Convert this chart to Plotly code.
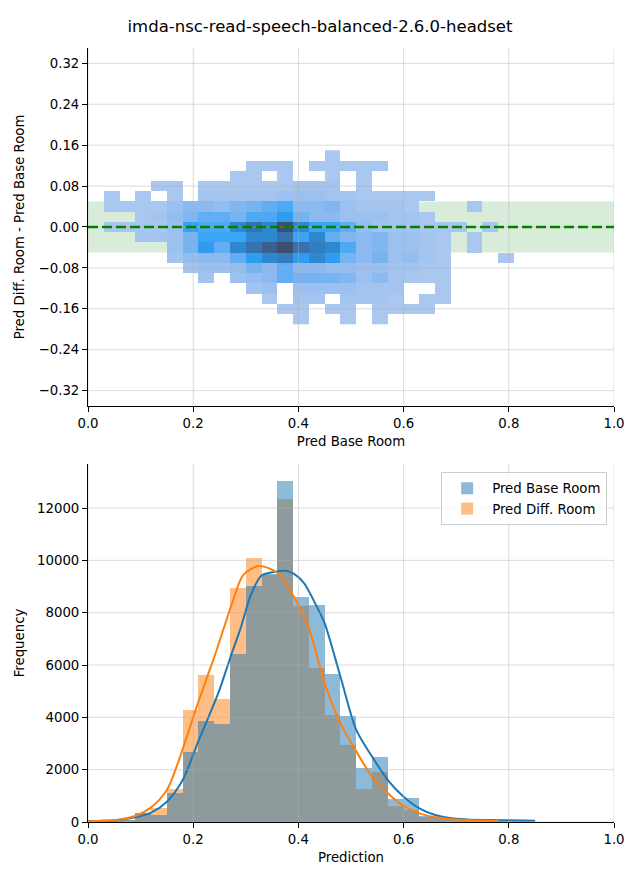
import plotly.graph_objects as go

TITLE = "imda-nsc-read-speech-balanced-2.6.0-headset"

# ---------------- top panel: 2D histogram ----------------
hm_x_centers = [0.015, 0.045, 0.075, 0.105, 0.135, 0.165, 0.195, 0.225, 0.255,
                0.285, 0.315, 0.345, 0.375, 0.405, 0.435, 0.465, 0.495, 0.525,
                0.555, 0.585, 0.615, 0.645, 0.675, 0.705, 0.735, 0.765, 0.795]
hm_y_centers = [0.14, 0.12, 0.10, 0.08, 0.06, 0.04, 0.02, 0.0, -0.02, -0.04,
                -0.06, -0.08, -0.10, -0.12, -0.14, -0.16, -0.18]
# density level per cell (0 = empty), rows follow hm_y_centers
hm_levels = [
    [0,0,0,0,0,0,0,0,0,0,0,0,0,0,0,1,0,0,0,0,0,0,0,0,0,0,0],
    [0,0,0,0,0,0,0,0,0,0,1,1,1,0,1,1,1,1,1,0,0,0,0,0,0,0,0],
    [0,0,0,0,0,0,0,0,0,1,1,0,1,0,0,1,0,1,0,0,0,0,0,0,0,0,0],
    [0,0,0,0,1,1,0,1,1,1,1,1,1,1.5,1.5,1.5,0,1,0,0,0,0,0,0,0,0,0],
    [0,1,0,1,0,1,0,1.5,1.5,1.5,1.5,1.5,2,2,2,1.5,1.5,1,1,1,1,1,0,0,0,0,0],
    [0,1,1,1,1,2,3,3,2.5,3.5,4,5,6,3,3,3.5,2,1.5,1.5,1.5,1,0,0,0,1,0,0],
    [0,0,0,1,1.5,2.5,3.5,5,5,4,6,6,8,4,3,3,2,2,2,1.5,1.5,1,0,0,0,0,0],
    [0,1,1,1,1,2,7.5,6,6,9,10,9,12,9,7,7,5,2.5,1.5,1.5,1.5,1,1,1,0,1,0],
    [0,0,0,1.5,1.5,2,4,7,7,7,9,9,10,7,9,5,3.5,3,3.5,2,2,1.5,1,0,1,0,0],
    [0,0,0,0,0,2,4,8,5,9,10,11,12,10,9.5,9,6,3,3.5,2,2,1.5,1,0,1,0,0],
    [0,0,0,0,0,1.5,2.5,3,3,5,8,9,9.5,8,9,8,4,3,4,2,2.5,1.5,1,0,0,0,1],
    [0,0,0,0,0,0,1.5,2,2,2.5,4,3,5,3,3,2.5,2.5,2,2,1.5,1.5,1,1,0,0,0,0],
    [0,0,0,0,0,0,0,1.5,0,2,2.5,3,5,4,4,4,3.5,2,3,1.5,1,1,1,0,0,0,0],
    [0,0,0,0,0,0,0,0,0,0,1.5,2,0,2,2,2,2,1.5,1.5,1.5,0,0,1,0,0,0,0],
    [0,0,0,0,0,0,0,0,0,0,0,1,0,1.5,1.5,0,1.5,1.5,1.5,1,0,1,1,0,0,0,0],
    [0,0,0,0,0,0,0,0,0,0,0,0,1,1,0,1,1,0,1,1,1,1,0,0,0,0,0],
    [0,0,0,0,0,0,0,0,0,0,0,0,0,1,0,0,1,0,1,0,0,0,0,0,0,0,0],
]
top_yticks = [-0.32, -0.24, -0.16, -0.08, 0.0, 0.08, 0.16, 0.24, 0.32]
top_xticks = [0.0, 0.2, 0.4, 0.6, 0.8, 1.0]
band_half = 0.05

# ---------------- bottom panel: histograms + KDE ----------------
hist_centers = [0.015, 0.045, 0.075, 0.105, 0.135, 0.165, 0.195, 0.225, 0.255,
                0.285, 0.315, 0.345, 0.375, 0.405, 0.435, 0.465, 0.495, 0.525,
                0.555, 0.585, 0.615, 0.645, 0.675, 0.705, 0.735, 0.765, 0.795, 0.825]
hist_width = 0.03
base_counts = [10, 30, 70, 340, 255, 1110, 2690, 3860, 3750, 6430, 9030, 9460, 13030,
               8600, 8290, 5655, 4050, 2060, 2484, 880, 917, 230, 200, 80, 30, 20, 10, 5]
diff_counts = [10, 30, 60, 340, 548, 1273, 4280, 5617, 4700, 8955, 10088, 9440, 12343,
               8267, 5897, 4089, 2942, 1261, 1911, 624, 459, 200, 150, 60, 20, 10, 0, 0]

kde_x_base = [0.0, 0.03, 0.06, 0.09, 0.12, 0.15, 0.18, 0.21, 0.23, 0.25, 0.27, 0.29,
              0.31, 0.33, 0.355, 0.375, 0.39, 0.41, 0.435, 0.45, 0.48, 0.51, 0.54,
              0.57, 0.60, 0.63, 0.66, 0.69, 0.72, 0.78, 0.85]
kde_y_base = [30, 45, 90, 178, 357, 777, 1605, 3100, 4050, 5050, 6250, 7400,
              8700, 9420, 9560, 9600, 9500, 9150, 8230, 7590, 5550, 3520, 2500,
              1605, 968, 522, 267, 140, 100, 70, 45]
kde_x_diff = [0.0, 0.03, 0.06, 0.09, 0.12, 0.15, 0.17, 0.19, 0.21, 0.24, 0.257, 0.276,
              0.295, 0.323, 0.345, 0.365, 0.384, 0.40, 0.42, 0.45, 0.48, 0.51, 0.54,
              0.57, 0.60, 0.63, 0.66, 0.69, 0.73, 0.78]
kde_y_diff = [30, 45, 100, 229, 560, 1223, 2200, 3389, 4600, 6300, 7336, 8483,
              9438, 9782, 9694, 9440, 8865, 8300, 7400, 5300, 3770, 2700, 1732,
              1096, 611, 331, 178, 102, 70, 40]
bot_yticks = [0, 2000, 4000, 6000, 8000, 10000, 12000]
bot_xticks = [0.0, 0.2, 0.4, 0.6, 0.8, 1.0]

BLUE = "#1f77b4"
ORANGE = "#ff7f0e"
FONT = "DejaVu Sans"
GRID = "rgba(176,176,176,0.45)"

level_colors = ["#aac7ef", "#9cc0ef", "#8bb9f0", "#76b3f1", "#62adf3", "#4ea9f5",
                "#3aa5f5", "#2f9cef", "#2e88d0", "#3672ae", "#3c5e8c", "#3e4f6e"]
colorscale = [[k / (len(level_colors) - 1), c] for k, c in enumerate(level_colors)]

z = [[(v if v > 0 else None) for v in row] for row in hm_levels]

fig = go.Figure()

fig.add_trace(go.Heatmap(
    x=hm_x_centers, y=hm_y_centers[::-1], z=z[::-1],
    colorscale=colorscale, zmin=1, zmax=12, showscale=False,
    hoverinfo="skip", xaxis="x", yaxis="y"))

# bottom histograms (orange first, blue on top)
fig.add_trace(go.Bar(x=hist_centers, y=diff_counts, width=hist_width,
                     marker=dict(color=ORANGE, line=dict(width=0)), opacity=0.5,
                     name="Pred Diff. Room", legendrank=2, xaxis="x2", yaxis="y2"))
fig.add_trace(go.Bar(x=hist_centers, y=base_counts, width=hist_width,
                     marker=dict(color=BLUE, line=dict(width=0)), opacity=0.5,
                     name="Pred Base Room", legendrank=1, xaxis="x2", yaxis="y2"))
fig.add_trace(go.Scatter(x=kde_x_base, y=kde_y_base, mode="lines",
                         line=dict(color=BLUE, width=2, shape="spline", smoothing=0.8),
                         showlegend=False, hoverinfo="skip", xaxis="x2", yaxis="y2"))
fig.add_trace(go.Scatter(x=kde_x_diff, y=kde_y_diff, mode="lines",
                         line=dict(color=ORANGE, width=2, shape="spline", smoothing=0.8),
                         showlegend=False, hoverinfo="skip", xaxis="x2", yaxis="y2"))

shapes = []
# green tolerance band (below cells)
shapes.append(dict(type="rect", xref="x domain", yref="y", x0=0, x1=1,
                   y0=-band_half, y1=band_half, fillcolor="rgba(0,128,0,0.15)",
                   line=dict(width=0), layer="below"))
# gridlines above patches
for t in top_xticks:
    shapes.append(dict(type="line", xref="x", yref="y domain", x0=t, x1=t, y0=0, y1=1,
                       line=dict(color=GRID, width=1), layer="above"))
for t in top_yticks:
    shapes.append(dict(type="line", xref="x domain", yref="y", x0=0, x1=1, y0=t, y1=t,
                       line=dict(color=GRID, width=1), layer="above"))
for t in bot_xticks:
    shapes.append(dict(type="line", xref="x2", yref="y2 domain", x0=t, x1=t, y0=0, y1=1,
                       line=dict(color=GRID, width=1), layer="above"))
for t in bot_yticks:
    shapes.append(dict(type="line", xref="x2 domain", yref="y2", x0=0, x1=1, y0=t, y1=t,
                       line=dict(color=GRID, width=1), layer="above"))
# zero reference line
shapes.append(dict(type="line", xref="x domain", yref="y", x0=0, x1=1, y0=0, y1=0,
                   line=dict(color="green", width=2.5, dash="10px,4px"), layer="above"))


def fmt(v, nd):
    s = f"{abs(v):.{nd}f}"
    return ("\u2212" + s) if v < 0 else s


FS = 13.3
axis_common = dict(showline=True, linecolor="black", linewidth=1, ticks="outside",
                   ticklen=5, tickwidth=1, tickcolor="black", showgrid=False,
                   zeroline=False, automargin=False,
                   tickfont=dict(family=FONT, size=FS, color="black"),
                   title_font=dict(family=FONT, size=FS, color="black"))

# the page body adds an 8px offset, so the figure is 8px smaller on each side
W, H = 632, 872
fig.update_layout(
    template="none",
    width=W, height=H,
    margin=dict(l=80, r=26, t=40, b=58),
    paper_bgcolor="white", plot_bgcolor="rgba(0,0,0,0)",
    font=dict(family=FONT, size=FS, color="black"),
    title=dict(text=TITLE, x=(320 - 8) / W, xanchor="center", xref="container",
               y=1 - 18 / H, yanchor="middle",
               font=dict(family=FONT, size=16.5, color="black")),
    barmode="overlay", bargap=0,
    showlegend=True,
    legend=dict(x=0.987, y=0.452, xanchor="right", yanchor="top", itemwidth=40,
                bgcolor="rgba(255,255,255,0.8)", bordercolor="#cccccc", borderwidth=1,
                font=dict(family=FONT, size=FS, color="black")),
    xaxis=dict(domain=[0, 1], anchor="y", range=[0, 1],
               tickvals=top_xticks, ticktext=[fmt(v, 1) for v in top_xticks],
               title=dict(text="Pred Base Room", standoff=6), **axis_common),
    yaxis=dict(domain=[0.5375, 1], anchor="x", range=[-0.35, 0.35],
               tickvals=top_yticks, ticktext=[fmt(v, 2) for v in top_yticks],
               title=dict(text="Pred Diff. Room - Pred Base Room", standoff=10),
               **axis_common),
    xaxis2=dict(domain=[0, 1], anchor="y2", range=[0, 1],
                tickvals=bot_xticks, ticktext=[fmt(v, 1) for v in bot_xticks],
                title=dict(text="Prediction", standoff=6), **axis_common),
    yaxis2=dict(domain=[0, 0.4625], anchor="x2", range=[0, max(base_counts) * 1.05],
                tickvals=bot_yticks, ticktext=[str(v) for v in bot_yticks],
                title=dict(text="Frequency", standoff=9), **axis_common),
    shapes=shapes,
)

fig.write_html("out.html")
